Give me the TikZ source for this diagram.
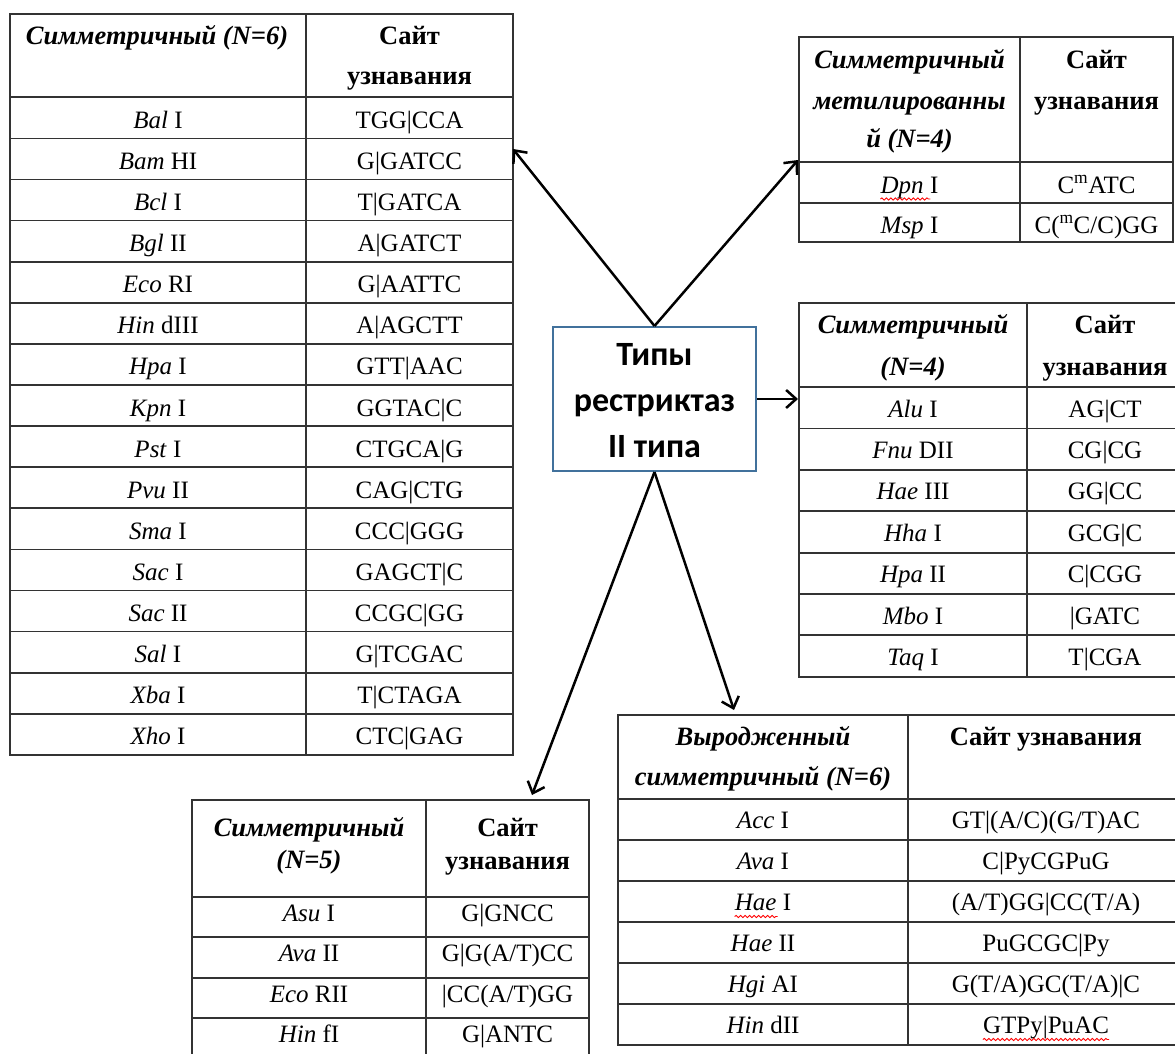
\documentclass[tikz,border=0pt]{standalone}
\usepackage{fontspec}
\setmainfont{Liberation Serif}
\newfontfamily\boxfont{Carlito}
\usetikzlibrary{arrows.meta,calc,decorations.pathmorphing}

\definecolor{boxblue}{HTML}{41719C}
\definecolor{rulegray}{HTML}{333333}

\tikzset{
  grid/.style={draw=rulegray, line width=1.7pt},
  cell/.style={anchor=base, inner sep=0pt, font=\fontsize{25}{30}\selectfont},
  headit/.style={cell, font=\fontsize{26.5}{30}\selectfont\bfseries\itshape},
  headup/.style={cell, font=\fontsize{26.5}{30}\selectfont\bfseries},
  boxtxt/.style={anchor=base, inner sep=0pt, font=\boxfont\bfseries\fontsize{34}{40}\selectfont},
  link/.style={line width=2.5pt, -{Straight Barb[length=10pt,width=18pt]}},
  spell/.style={draw=red, line width=0.9pt, decorate,
    decoration={snake, amplitude=1.1pt, segment length=4.5pt}},
}

\begin{document}
\begin{tikzpicture}[x=1pt,y=-1pt]
\useasboundingbox (0,0) rectangle (1175,1054);
\clip (0,0) rectangle (1175,1054);

% ---------- symmetric, N=6 ----------
\draw[grid] (10,14) rectangle (513,754.9);
\draw[grid] (306,14) -- (306,754.9);
\foreach \k in {0,...,15} \draw[grid] (10,{97.3+41.1*\k}) -- (513,{97.3+41.1*\k});
\node[headit] (A-h1) at (157,45) {Симметричный (N=6)};
\node[headup] (A-h2) at (409.5,45) {Сайт};
\node[headup] (A-h3) at (409.5,85) {узнавания};
\foreach \n/\s/\site [count=\i] in {
  Bal/I/{TGG|CCA}, Bam/HI/{G|GATCC}, Bcl/I/{T|GATCA}, Bgl/II/{A|GATCT},
  Eco/RI/{G|AATTC}, Hin/dIII/{A|AGCTT}, Hpa/I/{GTT|AAC}, Kpn/I/{GGTAC|C},
  Pst/I/{CTGCA|G}, Pvu/II/{CAG|CTG}, Sma/I/{CCC|GGG}, Sac/I/{GAGCT|C},
  Sac/II/{CCGC|GG}, Sal/I/{G|TCGAC}, Xba/I/{T|CTAGA}, Xho/I/{CTC|GAG}} {
  \node[cell] (A-\i-l) at (158,{97.3+41.1*(\i-1)+31}) {\textit{\n} \s};
  \node[cell] (A-\i-r) at (409.5,{97.3+41.1*(\i-1)+31}) {\site};
}

% ---------- symmetric methylated, N=4 ----------
\draw[grid] (799.3,37.3) rectangle (1173,241.7);
\draw[grid] (1020,37.3) -- (1020,241.7);
\draw[grid] (799.3,161.7) -- (1173,161.7);
\draw[grid] (799.3,203.3) -- (1173,203.3);
\node[headit] (B-h1) at (909.5,69) {Симметричный};
\node[headit] (B-h2) at (909.5,110) {метилированны};
\node[headit] (B-h3) at (909.5,148) {й (N=4)};
\node[headup] (B-h4) at (1096.5,69) {Сайт};
\node[headup] (B-h5) at (1096.5,110) {узнавания};
\node[cell] (B-1-l) at (909.5,193) {\textit{Dpn} I};
\node[cell] (B-1-r) at (1096.5,193) {C\textsuperscript{m}ATC};
\node[cell] (B-2-l) at (909.5,233) {\textit{Msp} I};
\node[cell] (B-2-r) at (1096.5,233) {C(\textsuperscript{m}C/C)GG};
\draw[spell] ($(B-1-l.base west)+(0,6)$) -- ++(50,0);

% ---------- symmetric, N=4 ----------
\draw[grid] (799.3,303.3) rectangle (1183,676.7);
\draw[grid] (1027,303.3) -- (1027,676.7);
\foreach \k in {0,...,6} \draw[grid] (799.3,{387.3+41.34*\k}) -- (1183,{387.3+41.34*\k});
\node[headit] (C-h1) at (913,333) {Симметричный};
\node[headit] (C-h2) at (913,375) {(N=4)};
\node[headup] (C-h3) at (1105,333) {Сайт};
\node[headup] (C-h4) at (1105,375) {узнавания};
\foreach \n/\s/\site [count=\i] in {
  Alu/I/{AG|CT}, Fnu/DII/{CG|CG}, Hae/III/{GG|CC}, Hha/I/{GCG|C},
  Hpa/II/{C|CGG}, Mbo/I/{|GATC}, Taq/I/{T|CGA}} {
  \node[cell] (C-\i-l) at (913,{387.3+41.34*(\i-1)+30}) {\textit{\n} \s};
  \node[cell] (C-\i-r) at (1105,{387.3+41.34*(\i-1)+30}) {\site};
}

% ---------- degenerate symmetric, N=6 ----------
\draw[grid] (618.3,715) rectangle (1184,1045);
\draw[grid] (908.3,715) -- (908.3,1045);
\foreach \k in {0,...,5} \draw[grid] (618.3,{799+41*\k}) -- (1184,{799+41*\k});
\node[headit] (D-h1) at (763,745) {Выродженный};
\node[headit] (D-h2) at (763,785) {симметричный (N=6)};
\node[headup] (D-h3) at (1046,745) {Сайт узнавания};
\foreach \n/\s/\site [count=\i] in {
  Acc/I/{GT|(A/C)(G/T)AC}, Ava/I/{C|PyCGPuG}, Hae/I/{(A/T)GG|CC(T/A)},
  Hae/II/{PuGCGC|Py}, Hgi/AI/{G(T/A)GC(T/A)|C}, Hin/dII/{GTPy|PuAC}} {
  \node[cell] (D-\i-l) at (763,{799+41*(\i-1)+29.5}) {\textit{\n} \s};
  \node[cell] (D-\i-r) at (1046,{799+41*(\i-1)+29.5}) {\site};
}
\draw[spell] ($(D-3-l.base west)+(0,6)$) -- ++(43,0);
\draw[spell] ($(D-6-r.base west)+(0,6)$) -- ($(D-6-r.base east)+(0,6)$);

% ---------- symmetric, N=5 ----------
\draw[grid] (191.7,800) rectangle (589.3,1058.7);
\draw[grid] (426,800) -- (426,1058.7);
\foreach \k in {0,...,3} \draw[grid] (191.7,{896.7+40.5*\k}) -- (589.3,{896.7+40.5*\k});
\node[headit] (E-h1) at (309,836) {Симметричный};
\node[headit] (E-h2) at (309,868) {(N=5)};
\node[headup] (E-h3) at (507.6,836) {Сайт};
\node[headup] (E-h4) at (507.6,869) {узнавания};
\foreach \n/\s/\site [count=\i] in {
  Asu/I/{G|GNCC}, Ava/II/{G|G(A/T)CC}, Eco/RII/{|CC(A/T)GG}, Hin/fI/{G|ANTC}} {
  \node[cell] (E-\i-l) at (309,{896.7+40.5*(\i-1)+24.5}) {\textit{\n} \s};
  \node[cell] (E-\i-r) at (507.6,{896.7+40.5*(\i-1)+24.5}) {\site};
}

% ---------- central box ----------
\node[draw=boxblue, line width=2pt, minimum width=203pt, minimum height=144pt,
      inner sep=0pt, fill=white] (box) at (654.5,399) {};
\node[boxtxt] (box-1) at (654.5,365) {Типы};
\node[boxtxt] (box-2) at (654.5,411) {рестриктаз};
\node[boxtxt] (box-3) at (654.5,457) {II типа};

% ---------- connectors ----------
\coordinate (toA) at (513,149);
\coordinate (toB) at (798,160);
\coordinate (toC) at (798,399);
\coordinate (toD) at (734,710);
\coordinate (toE) at (532,795);
\draw[link] (box.north) -- (toA);
\draw[link] (box.north) -- (toB);
\draw[link] (box.east) -- (toC);
\draw[link] (box.south) -- (toD);
\draw[link] (box.south) -- (toE);
\end{tikzpicture}
\end{document}
